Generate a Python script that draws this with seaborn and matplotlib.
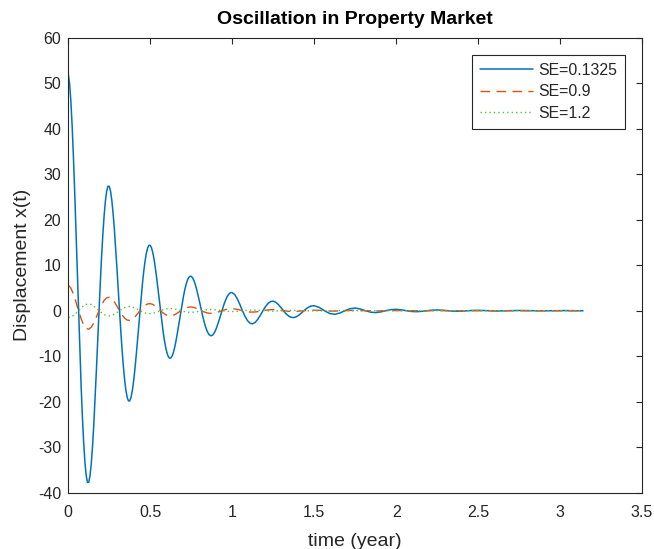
import numpy as np
import pandas as pd
import matplotlib
matplotlib.use("Agg")
import matplotlib.pyplot as plt
import seaborn as sns

# Sample times (years): fine steps while the swings are large, coarser later on
time_main = np.concatenate([np.arange(129) / 128, 1 + np.arange(1, 33) / 64,
                            1.5 + np.arange(1, 53) / 32, [3.14]])
time_small = np.concatenate([np.arange(97) / 64, 1.5 + np.arange(1, 53) / 32, [3.14]])

# Displacement x(t) for three values of the elasticity SE
x_se_01325 = [
    52.0, 49.99, 46.15, 40.71, 33.92, 26.13, 17.65, 8.81,
    0.0, -8.47, -16.29, -23.16, -28.89, -33.30, -36.27, -37.73,
    -37.70, -36.24, -33.47, -29.52, -24.60, -18.94, -12.80, -6.39,
    0.0, 6.14, 11.81, 16.79, 20.94, 24.14, 26.30, 27.36,
    27.33, 26.27, 24.26, 21.40, 17.83, 13.73, 9.28, 4.63,
    0.0, -4.45, -8.56, -12.18, -15.19, -17.50, -19.06, -19.83,
    -19.82, -19.06, -17.59, -15.52, -12.93, -9.96, -6.73, -3.36,
    0.0, 3.23, 6.21, 8.83, 11.01, 12.69, 13.82, 14.38,
    14.37, 13.81, 12.75, 11.25, 9.37, 7.22, 4.88, 2.44,
    0.0, -2.34, -4.50, -6.40, -7.98, -9.20, -10.03, -10.43,
    -10.42, -10.01, -9.25, -8.16, -6.80, -5.24, -3.54, -1.77,
    0.0, 1.70, 3.26, 4.64, 5.79, 6.67, 7.26, 7.56,
    7.55, 7.26, 6.71, 5.92, 4.93, 3.80, 2.57, 1.28,
    0.0, -1.23, -2.37, -3.37, -4.20, -4.84, -5.27, -5.48,
    -5.48, -5.27, -4.86, -4.29, -3.57, -2.75, -1.86, -0.93,
    0.0, 0.89, 1.72, 2.44, 3.05, 3.51, 3.83, 3.98,
    3.97,
    3.53, 2.59, 1.35, 0.0, -1.24, -2.21, -2.77, -2.88,
    -2.56, -1.88, -0.98, 0.0, 0.90, 1.60, 2.01, 2.09,
    1.86, 1.36, 0.71, 0.0, -0.65, -1.16, -1.46, -1.51,
    -1.34, -0.99, -0.51, 0.0, 0.47, 0.84, 1.05, 1.10,
    0.71, 0.0, -0.61, -0.80, -0.52, 0.0, 0.44, 0.58,
    0.38, 0.0, -0.32, -0.42, -0.27, 0.0, 0.23, 0.30,
    0.20, 0.0, -0.17, -0.22, -0.14, 0.0, 0.12, 0.16,
    0.10, 0.0, -0.09, -0.12, -0.08, 0.0, 0.06, 0.08,
    0.05, 0.0, -0.05, -0.06, -0.04, 0.0, 0.03, 0.05,
    0.03, 0.0, -0.03, -0.03, -0.02, 0.0, 0.02, 0.03,
    0.02, 0.0, -0.01, -0.02,
    -0.02,
]

x_se_09 = [
    5.62, 4.98, 3.66, 1.91, 0.0, -1.76, -3.12, -3.92,
    -4.07, -3.61, -2.66, -1.38, 0.0, 1.28, 2.26, 2.84,
    2.95, 2.62, 1.93, 1.00, 0.0, -0.92, -1.64, -2.06,
    -2.14, -1.90, -1.40, -0.73, 0.0, 0.67, 1.19, 1.49,
    1.55, 1.38, 1.01, 0.53, 0.0, -0.49, -0.86, -1.08,
    -1.13, -1.00, -0.73, -0.38, 0.0, 0.35, 0.63, 0.78,
    0.82, 0.72, 0.53, 0.28, 0.0, -0.26, -0.45, -0.57,
    -0.59, -0.52, -0.39, -0.20, 0.0, 0.19, 0.33, 0.41,
    0.43, 0.38, 0.28, 0.15, 0.0, -0.13, -0.24, -0.30,
    -0.31, -0.28, -0.20, -0.11, 0.0, 0.10, 0.17, 0.22,
    0.23, 0.20, 0.15, 0.08, 0.0, -0.07, -0.13, -0.16,
    -0.16, -0.14, -0.11, -0.06, 0.0, 0.05, 0.09, 0.11,
    0.12,
    0.08, 0.0, -0.07, -0.09, -0.06, 0.0, 0.05, 0.06,
    0.04, 0.0, -0.03, -0.05, -0.03, 0.0, 0.02, 0.03,
    0.02, 0.0, -0.02, -0.02, -0.02, 0.0, 0.01, 0.02,
    0.01, 0.0, -0.01, -0.01, -0.01,
] + [0.0] * 23 + [0.0]

x_se_12 = [
    -1.50, -1.39, -1.06, -0.57, 0.0, 0.57, 1.06, 1.39,
    1.50, 1.34, 0.99, 0.51, 0.0, -0.47, -0.86, -1.09,
    -1.15, -1.03, -0.77, -0.41, 0.0, 0.38, 0.68, 0.86,
    0.90, 0.80, 0.59, 0.31, 0.0, -0.28, -0.50, -0.63,
    -0.65, -0.58, -0.43, -0.23, 0.0, 0.21, 0.37, 0.46,
    0.48, 0.43, 0.32, 0.16, 0.0, -0.15, -0.27, -0.34,
    -0.35, -0.31, -0.23, -0.12, 0.0, 0.11, 0.20, 0.25,
    0.26, 0.23, 0.17, 0.09, 0.0, -0.08, -0.14, -0.18,
    -0.19, -0.17, -0.13, -0.07, 0.0, 0.06, 0.10, 0.13,
    0.14, 0.12, 0.09, 0.05, 0.0, -0.04, -0.07, -0.09,
    -0.10, -0.09, -0.07, -0.04, 0.0, 0.03, 0.05, 0.06,
    0.07, 0.06, 0.05, 0.03, 0.0, -0.02, -0.03, -0.04,
    -0.05,
    -0.03, 0.0, 0.02, 0.03, 0.02, 0.0, -0.01, -0.02,
    -0.01,
] + [0.0] * 43 + [0.0]

series_labels = ["SE=0.1325", "SE=0.9", "SE=1.2"]
x_ticks = [0, 0.5, 1, 1.5, 2, 2.5, 3, 3.5]
x_tick_labels = ["0", "0.5", "1", "1.5", "2", "2.5", "3", "3.5"]
y_ticks = [-40, -30, -20, -10, 0, 10, 20, 30, 40, 50, 60]
y_tick_labels = ["-40", "-30", "-20", "-10", "0", "10", "20", "30", "40", "50", "60"]

sns.set_style("white")
plt.rcParams["font.family"] = ["Liberation Sans", "DejaVu Sans"]
plt.rcParams["axes.unicode_minus"] = False

ink = "#262626"
styles = [
    dict(color="#0072BD", linestyle="-", linewidth=1.1),
    dict(color="#D95319", linestyle=(0, (7, 4.5)), linewidth=1.0),
    dict(color="#4CC24C", linestyle=(0, (1, 2.2)), linewidth=1.0),
]
times = [time_main, time_small, time_small]

fig = plt.figure(figsize=(6.54, 5.49), dpi=100)
ax = fig.add_axes([0.1044, 0.1026, 0.8773, 0.8287])

for label, t, values, st in zip(series_labels, times,
                                [x_se_01325, x_se_09, x_se_12], styles):
    df = pd.DataFrame({"time": t, "x": values})
    sns.lineplot(data=df, x="time", y="x", ax=ax, label=label, sort=False, **st)

ax.set_xlim(0, 3.5)
ax.set_ylim(-40, 60)
ax.set_xticks(x_ticks)
ax.set_xticklabels(x_tick_labels)
ax.set_yticks(y_ticks)
ax.set_yticklabels(y_tick_labels)

for sp in ax.spines.values():
    sp.set_visible(True)
    sp.set_color(ink)
    sp.set_linewidth(0.8)
ax.tick_params(direction="in", length=4.5, width=0.8, top=True, right=True,
               labelsize=11.5, colors=ink)
ax.tick_params(axis="x", pad=9)
ax.tick_params(axis="y", pad=5)

ax.set_title("Oscillation in Property Market", fontsize=14, fontweight="bold",
             color="black", pad=10)
ax.set_xlabel("time (year)", fontsize=14, color=ink, labelpad=9)
ax.set_ylabel("Displacement x(t)", fontsize=14, color=ink, labelpad=5)

leg = ax.legend(loc="upper right", bbox_to_anchor=(625 / 654, 1 - 55 / 549),
                bbox_transform=fig.transFigure, frameon=True, fancybox=False,
                edgecolor=ink, framealpha=1, fontsize=11.4, handlelength=3.4,
                handletextpad=0.3, borderpad=0.5, labelspacing=0.4,
                borderaxespad=0)
leg.get_frame().set_linewidth(0.8)

fig.savefig("out.png", dpi=100, facecolor="white")
